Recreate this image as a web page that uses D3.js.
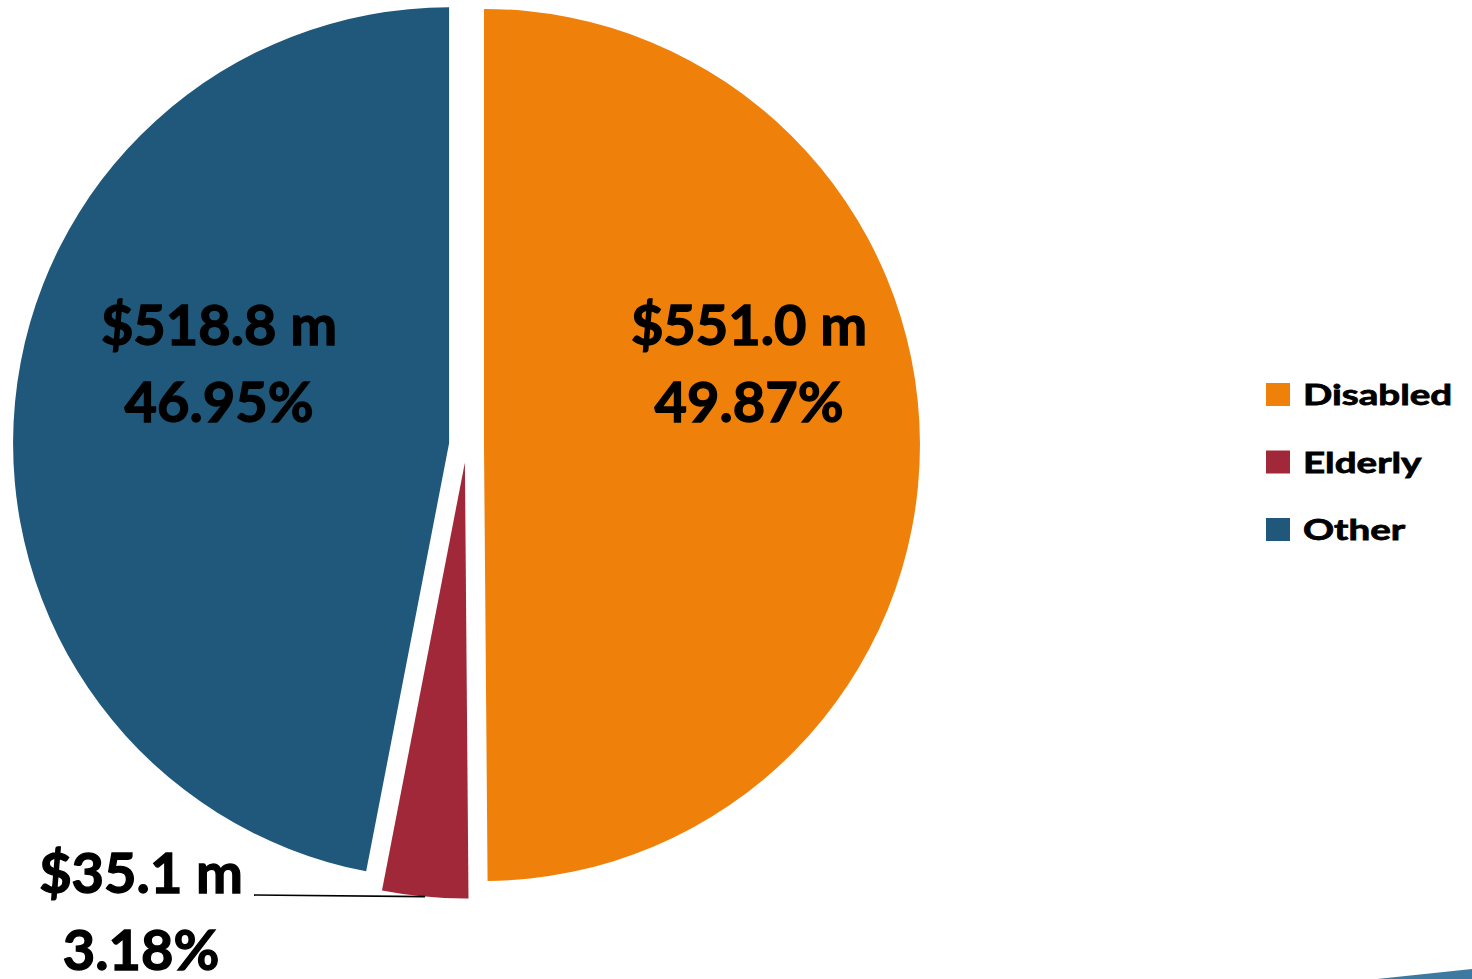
<!DOCTYPE html>
<html>
<head>
<meta charset="utf-8">
<script src="https://cdn.jsdelivr.net/npm/d3@7"></script>
<style>
  body { margin: 0; background: #fff; }
  text { font-family: Lato, "Open Sans", sans-serif; font-weight: bold; fill: #000; stroke: #000; }
</style>
</head>
<body>
<div id="chart-area"></div>
<script>
var categories = ["Disabled", "Elderly", "Other"];
var amounts = [551.0, 35.1, 518.8];          // $ millions
var colors = ["#EF800A", "#A12838", "#1F587A"];

var width = 1472, height = 979;
var cx = 466.5, cy = 445;
var radius = 436;
var explode = 17.5;

var svg = d3.select("#chart-area").append("svg")
            .attr("width", width)
            .attr("height", height);

var total = d3.sum(amounts);
var data = categories.map(function(c, i){
  return {name: c, value: amounts[i], color: colors[i]};
});

var pie = d3.pie()
            .sort(null)
            .value(function(d){ return d.value; });

var arc = d3.arc()
            .innerRadius(0)
            .outerRadius(radius);

var slices = pie(data);

function offset(d, r){
  var a = (d.startAngle + d.endAngle) / 2;
  return [Math.sin(a) * r, -Math.cos(a) * r];
}

var g = svg.append("g")
           .attr("transform", "translate(" + cx + "," + cy + ")");

g.selectAll("path")
 .data(slices)
 .enter()
 .append("path")
 .attr("d", arc)
 .attr("fill", function(d){ return d.data.color; })
 .attr("transform", function(d){
   var o = offset(d, explode);
   return "translate(" + o[0] + "," + o[1] + ")";
 });

// labels
function money(v){ return "$" + v.toFixed(1) + " m"; }
function pct(v){ return (v / total * 100).toFixed(2) + "%"; }

slices.forEach(function(d){
  var small = (d.endAngle - d.startAngle) < 0.5;
  var x, y;
  if (!small){
    var a = (d.startAngle + d.endAngle) / 2;
    // inside labels, pushed out horizontally from the centre
    x = Math.sin(a) > 0 ? 282.5 : -247.5;
    y = -100;
  } else {
    var o = offset(d, explode + radius);
    x = -325.5;
    y = 448;
    // leader line from outer edge of the slice to the label
    g.append("line")
     .attr("x1", o[0]).attr("y1", o[1])
     .attr("x2", -212.5).attr("y2", 450)
     .attr("stroke", "#000")
     .attr("stroke-width", 1.6);
  }
  var t = g.append("text")
           .attr("text-anchor", "middle")
           .attr("font-size", 56)
           .attr("stroke-width", 1.3)
           .attr("x", x)
           .attr("y", y);
  t.append("tspan").attr("x", x).text(money(d.data.value));
  t.append("tspan").attr("x", x).attr("dy", 77).text(pct(d.data.value));
});

// legend
var legend = svg.append("g")
                .attr("transform", "translate(1266,383)");

var items = legend.selectAll("g")
                  .data(data)
                  .enter()
                  .append("g")
                  .attr("transform", function(d, i){ return "translate(0," + (i * 67.5) + ")"; });

items.append("rect")
     .attr("width", 24)
     .attr("height", 23)
     .attr("fill", function(d){ return d.color; });

items.append("text")
     .attr("font-size", 29)
     .attr("stroke-width", 0.8)
     .attr("transform", "translate(37,22) scale(1.33,1)")
     .text(function(d){ return d.name; });

// sliver of a neighbouring shape in the bottom right corner
svg.append("path")
   .attr("d", "M1377,979 L1472,969 L1472,979 Z")
   .attr("fill", "#3E79A2");
</script>
</body>
</html>
